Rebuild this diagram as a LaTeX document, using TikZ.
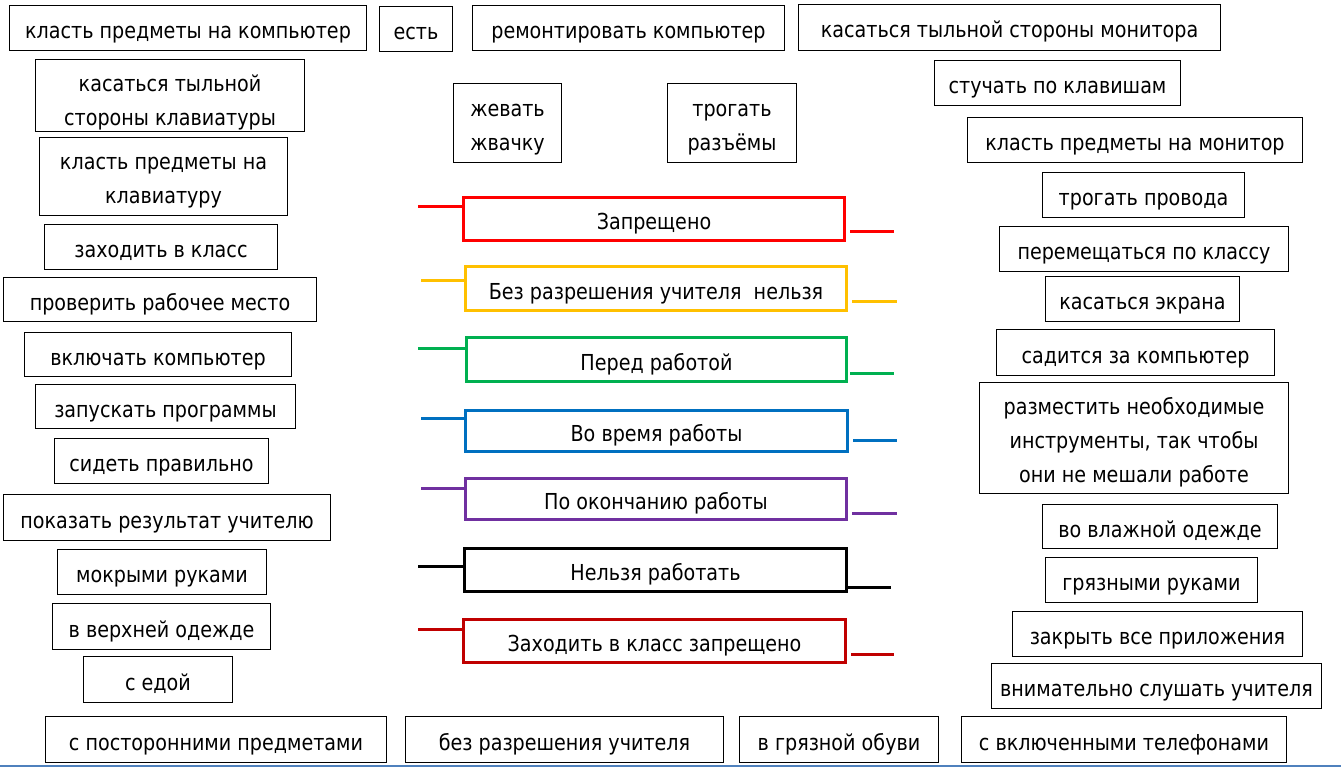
\documentclass[tikz,border=0pt]{standalone}
\usepackage{fontspec}
\setmainfont{DejaVu Sans}[FakeStretch=0.87]
\definecolor{cRed}{HTML}{FF0000}
\definecolor{cYel}{HTML}{FFC000}
\definecolor{cGrn}{HTML}{00B050}
\definecolor{cBlu}{HTML}{0070C0}
\definecolor{cPur}{HTML}{7030A0}
\definecolor{cDrk}{HTML}{C00000}
\definecolor{cEdge}{HTML}{4F81BD}
\newcommand\mystrut{\rule[-5pt]{0pt}{31pt}}
\newcommand\bx[7][]{\node[box,#1,minimum width={(#5-#3-1)*1pt},minimum height={(#6-#4-1)*1pt}] (#2) at ({(#3+#5)/2},{(#4+#6)/2}) {#7};}
\newcommand\cbx[7]{\node[cbox=#7,minimum width={(#4-#2-3)*1pt},minimum height={(#5-#3-3)*1pt}] (#1) at ({(#2+#4)/2},{(#3+#5)/2}) {#6};}
\begin{document}
\begin{tikzpicture}[x=1pt,y=-1pt,
  box/.style={draw=black,line width=1pt,inner sep=0pt,align=center,font=\fontsize{22}{34}\selectfont},
  cbox/.style={draw=#1,line width=3pt,inner sep=0pt,align=center,font=\fontsize{22}{34}\selectfont},
  cline/.style={draw=#1,line width=3pt},
  edgeline/.style={draw=cEdge,line width=1.5pt}]
\useasboundingbox (0,0) rectangle (1341,767);
% top row
\bx{k1}{9}{5}{367}{51}{\mystrut класть предметы на компьютер}
\bx{est}{379}{6}{453}{52}{\mystrut есть}
\bx{rem}{472}{5}{785}{51}{\mystrut ремонтировать компьютер}
\bx{ktm}{798}{4}{1221}{51}{\mystrut касаться тыльной стороны монитора}
% left column
\bx[text depth=-3pt]{ktk}{35}{59}{305}{132}{\mystrut касаться тыльной\\\mystrut стороны клавиатуры\rule[-11pt]{0pt}{1pt}}
\bx{kpk}{39}{137}{288}{216}{\mystrut класть предметы на\\\mystrut клавиатуру}
\bx{zvk}{44}{224}{278}{270}{\mystrut заходить в класс}
\bx{prm}{3}{277}{317}{322}{\mystrut проверить рабочее место}
\bx{vk}{24}{332}{292}{377}{\mystrut включать компьютер}
\bx{zp}{35}{384}{296}{429}{\mystrut запускать программы}
\bx{sp}{54}{438}{269}{484}{\mystrut сидеть правильно}
\bx{pru}{3}{494}{331}{541}{\mystrut показать результат учителю}
\bx{mr}{57}{549}{267}{595}{\mystrut мокрыми руками}
\bx{vvo}{52}{603}{271}{650}{\mystrut в верхней одежде}
\bx{se}{83}{656}{233}{703}{\mystrut с едой}
% bottom row
\bx{spm}{45}{716}{387}{763}{\mystrut с посторонними предметами}
\bx{bru}{405}{716}{724}{763}{\mystrut без разрешения учителя}
\bx{vgo}{739}{716}{939}{763}{\mystrut в грязной обуви}
\bx{svt}{961}{716}{1287}{763}{\mystrut с включенными телефонами}
% centre top
\bx{zhv}{453}{83}{562}{163}{\mystrut жевать\\\mystrut жвачку}
\bx{trr}{667}{83}{797}{163}{\mystrut трогать\\\mystrut разъёмы}
% right column
\bx{spk}{934}{60}{1181}{106}{\mystrut стучать по клавишам}
\bx{kpm}{967}{117}{1303}{163}{\mystrut класть предметы на монитор}
\bx{tpr}{1042}{172}{1245}{218}{\mystrut трогать провода}
\bx{ppk}{999}{226}{1289}{272}{\mystrut перемещаться по классу}
\bx{kek}{1045}{276}{1240}{322}{\mystrut касаться экрана}
\bx{szk}{996}{329}{1275}{376}{\mystrut садится за компьютер}
\bx{rni}{979}{382}{1289}{494}{\mystrut разместить необходимые\\\mystrut инструменты, так чтобы\\\mystrut они не мешали работе}
\bx{vvd}{1042}{504}{1278}{549}{\mystrut во влажной одежде}
\bx{grk}{1045}{557}{1258}{603}{\mystrut грязными руками}
\bx{zvp}{1012}{611}{1303}{657}{\mystrut закрыть все приложения}
\bx{vsu}{991}{663}{1322}{709}{\mystrut внимательно слушать учителя}
% coloured category boxes
\cbx{A}{462}{196}{846}{242}{\mystrut Запрещено}{cRed}
\cbx{B}{464}{265}{848}{312}{\mystrut Без разрешения учителя\ \ нельзя}{cYel}
\cbx{C}{465}{336}{848}{383}{\mystrut Перед работой}{cGrn}
\cbx{D}{464}{409}{849}{453}{\mystrut Во время работы}{cBlu}
\cbx{E}{464}{477}{848}{521}{\mystrut По окончанию работы}{cPur}
\cbx{F}{463}{547}{848}{593}{\mystrut Нельзя работать}{black}
\cbx{G}{462}{618}{847}{664}{\mystrut Заходить в класс запрещено}{cDrk}
% connector stubs
\coordinate (AL) at (418,207); \coordinate (AR) at (894,232);
\coordinate (BL) at (421,281); \coordinate (BR) at (897,302);
\coordinate (CL) at (418,348); \coordinate (CR) at (894,373);
\coordinate (DL) at (421,418); \coordinate (DR) at (897,440);
\coordinate (EL) at (421,488); \coordinate (ER) at (897,513);
\coordinate (FL) at (418,566); \coordinate (FR) at (891,587);
\coordinate (GL) at (418,629); \coordinate (GR) at (894,654);
\draw[cline=cRed] (AL) -- (AL -| A.west);
\draw[cline=cRed,shorten <=4pt] (AR -| A.east) -- (AR);
\draw[cline=cYel] (BL) -- (BL -| B.west);
\draw[cline=cYel,shorten <=4pt] (BR -| B.east) -- (BR);
\draw[cline=cGrn] (CL) -- (CL -| C.west);
\draw[cline=cGrn,shorten <=2pt] (CR -| C.east) -- (CR);
\draw[cline=cBlu] (DL) -- (DL -| D.west);
\draw[cline=cBlu,shorten <=4pt] (DR -| D.east) -- (DR);
\draw[cline=cPur] (EL) -- (EL -| E.west);
\draw[cline=cPur,shorten <=4pt] (ER -| E.east) -- (ER);
\draw[cline=black] (FL) -- (FL -| F.west);
\draw[cline=black] (FR -| F.east) -- (FR);
\draw[cline=cDrk] (GL) -- (GL -| G.west);
\draw[cline=cDrk,shorten <=4pt] (GR -| G.east) -- (GR);
% bottom edge line
\coordinate (edgeA) at (0,766); \coordinate (edgeB) at (1341,766);
\draw[edgeline] (edgeA) -- (edgeB);
\end{tikzpicture}
\end{document}
